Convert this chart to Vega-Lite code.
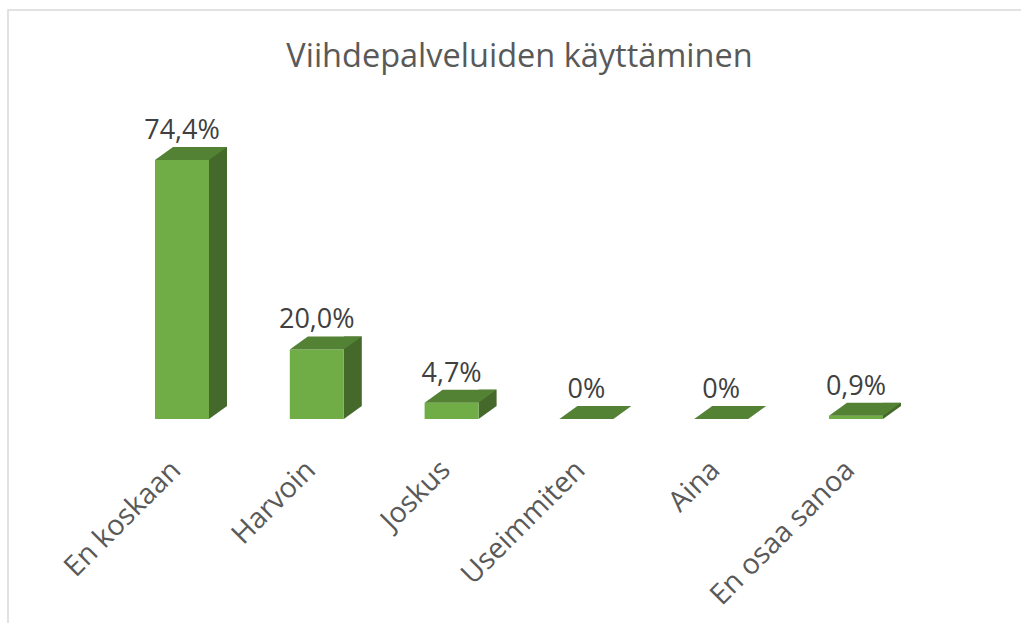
{
  "$schema": "https://vega.github.io/schema/vega-lite/v6.json",
  "width": 1013,
  "height": 613,
  "autosize": {"type": "none"},
  "padding": {"left": 8, "top": 10, "right": 0, "bottom": 0},
  "background": "white",
  "title": {
    "text": "Viihdepalveluiden käyttäminen",
    "font": "Open Sans",
    "fontSize": 32.5,
    "fontWeight": "normal",
    "color": "#595959",
    "anchor": "middle",
    "dx": 5,
    "offset": -63
  },
  "config": {"view": {"stroke": "#d9d9d9", "strokeWidth": 1.5, "strokeDash": [1013, 1626, 613, 5000]}},
  "data": {
    "values": [
      {"vastaus": "En koskaan", "osuus": 74.4, "teksti": "74,4%"},
      {"vastaus": "Harvoin", "osuus": 20.0, "teksti": "20,0%"},
      {"vastaus": "Joskus", "osuus": 4.7, "teksti": "4,7%"},
      {"vastaus": "Useimmiten", "osuus": 0, "teksti": "0%"},
      {"vastaus": "Aina", "osuus": 0, "teksti": "0%"},
      {"vastaus": "En osaa sanoa", "osuus": 0.9, "teksti": "0,9%"}
    ]
  },
  "encoding": {
    "x": {
      "field": "vastaus",
      "type": "nominal",
      "sort": null,
      "scale": {"range": [106.6, 915.4], "paddingInner": 0, "paddingOuter": 0},
      "axis": {
        "title": null,
        "labelAngle": -45,
        "labelFont": "Open Sans",
        "labelFontSize": 28.5,
        "labelColor": "#595959",
        "ticks": false,
        "tickSize": 0,
        "domain": false,
        "grid": false,
        "labelPadding": 0,
        "labelOffset": -16,
        "offset": -168,
        "labelOverlap": false,
        "labelLimit": 400
      }
    },
    "y": {
      "field": "osuus",
      "type": "quantitative",
      "scale": {"domain": [0, 100], "range": [409, 61]},
      "axis": null
    }
  },
  "layer": [
    {
      "mark": {"type": "bar", "width": 18, "xOffset": 36, "yOffset": -13, "color": "#44692a"}
    },
    {
      "transform": [{"filter": "datum.osuus > 0"}],
      "mark": {"type": "point", "shape": "M27,-13L27,0L45,-13Z", "size": 4, "filled": true, "opacity": 1, "color": "#44692a", "strokeWidth": 0},
      "encoding": {"y": {"datum": 0, "type": "quantitative"}}
    },
    {
      "mark": {"type": "bar", "width": 54, "color": "#70ad47"}
    },
    {
      "mark": {"type": "point", "shape": "M-27,0L27,0L45,-13L-9,-13Z", "size": 4, "filled": true, "opacity": 1, "color": "#548235", "strokeWidth": 0}
    },
    {
      "mark": {"type": "text", "font": "Open Sans", "fontSize": 27, "color": "#404040", "baseline": "alphabetic", "dy": -21},
      "encoding": {"text": {"field": "teksti"}}
    }
  ]
}
